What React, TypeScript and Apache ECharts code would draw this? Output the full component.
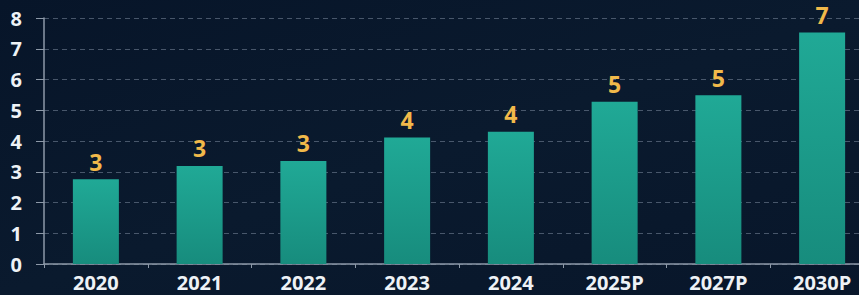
import React, { useEffect, useRef } from "react";
import * as echarts from "echarts";

const categories = ["2020", "2021", "2022", "2023", "2024", "2025P", "2027P", "2030P"];
const values = [2.76, 3.19, 3.35, 4.11, 4.3, 5.28, 5.49, 7.53];
const valueLabels = ["3", "3", "3", "4", "4", "5", "5", "7"];
const yTicks = [0, 1, 2, 3, 4, 5, 6, 7, 8];

export default function App() {
  const ref = useRef<HTMLDivElement>(null);
  useEffect(() => {
    if (!ref.current) return;
    const chart = echarts.init(ref.current, undefined, { renderer: "svg" });
    chart.setOption({
      animation: false,
      backgroundColor: {
        type: "linear",
        x: 0, y: 0, x2: 1, y2: 1,
        colorStops: [
          { offset: 0, color: "#071529" },
          { offset: 0.5, color: "#0a1a2e" },
          { offset: 1, color: "#08162a" },
        ],
      },
      grid: { left: 44, top: 18, height: 246, width: 830, containLabel: false },
      xAxis: {
        type: "category",
        data: categories,
        axisLine: { show: true, lineStyle: { color: "#8d99a8", width: 1.5 } },
        axisTick: { show: true, length: 4, lineStyle: { color: "#8d99a8" } },
        axisLabel: {
          color: "#eef2f6",
          fontSize: 20,
          lineHeight: 20,
          fontWeight: "bold",
          fontFamily: "Open Sans",
          margin: 8,
        },
      },
      yAxis: {
        type: "value",
        min: yTicks[0],
        max: yTicks[yTicks.length - 1],
        interval: 1,
        axisLine: { show: true, lineStyle: { color: "#8d99a8", width: 1.5 } },
        axisTick: { show: true, length: 8, lineStyle: { color: "#8d99a8" } },
        axisLabel: {
          color: "#eef2f6",
          fontSize: 20,
          fontWeight: "bold",
          fontFamily: "Open Sans",
          margin: 22,
        },
        splitLine: {
          show: true,
          lineStyle: { color: "rgba(150,165,185,0.45)", type: [5, 4], width: 1 },
        },
      },
      series: [
        {
          type: "bar",
          data: values,
          barWidth: 46,
          itemStyle: {
            color: {
              type: "linear",
              x: 0, y: 0, x2: 0, y2: 1,
              colorStops: [
                { offset: 0, color: "#20a996" },
                { offset: 1, color: "#178c7d" },
              ],
            },
          },
          label: {
            show: true,
            position: "top",
            distance: 6,
            formatter: (p: any) => valueLabels[p.dataIndex],
            color: "#f1b94a",
            fontSize: 23,
            fontWeight: "bold",
            fontFamily: "Open Sans",
          },
        },
      ],
    });
    return () => chart.dispose();
  }, []);
  return (
    <div style={{ position: "fixed", left: 0, top: 0, width: 859, height: 295, overflow: "hidden" }}>
      <div ref={ref} style={{ position: "absolute", left: 0, top: 0, width: 890, height: 295 }} />
    </div>
  );
}
